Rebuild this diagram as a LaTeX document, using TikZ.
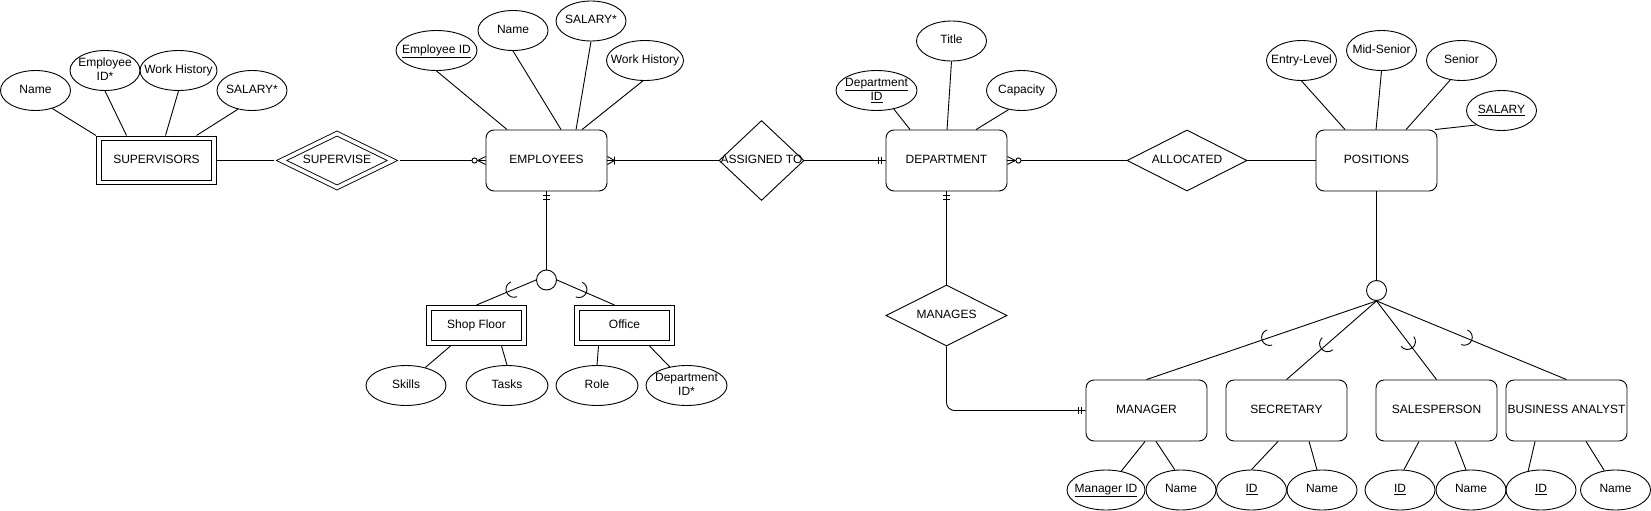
\documentclass[tikz,border=0pt]{standalone}
\usepackage{fontspec}
\setmainfont{Liberation Sans}
\usetikzlibrary{shapes.geometric, calc, decorations.markings}
\newcommand{\ertxt}[1]{\makebox[0pt]{\begin{tabular}{@{}c@{}}#1\end{tabular}}}

\begin{document}
\begin{tikzpicture}[x=1pt, y=-1pt, line width=0.9pt,
 font=\fontsize{12}{14}\selectfont,
 entity/.style={draw, rounded corners=8pt, minimum width=121pt, minimum height=61pt, inner sep=0pt},
 weak/.style={draw, double, double distance=3.5pt, outer sep=3pt, minimum width=115pt, minimum height=44pt, inner sep=0pt},
 attr/.style={ellipse, draw, minimum width=70pt, minimum height=40pt, inner sep=0pt},
 rel/.style={diamond, draw, minimum width=120pt, minimum height=61pt, inner sep=0pt},
 isa/.style={circle, draw, minimum size=20pt, inner sep=0pt},
 one/.style={postaction={decorate}, decoration={markings,
   mark=at position -7.5pt with {\draw (0,-3.5) -- (0,3.5);},
   mark=at position -4pt with {\draw (0,-3.5) -- (0,3.5);}}},
 zeromany/.style={postaction={decorate}, decoration={markings,
   mark=at position -11pt with {\draw[fill=white] (0,0) circle[radius=2.6];},
   mark=at position -8pt with {\draw (0,0) -- (8,4) (0,0) -- (8,-4);}}},
 onemany/.style={postaction={decorate}, decoration={markings,
   mark=at position -7pt with {\draw (0,0) -- (7,4) (0,0) -- (7,-4) (0,-4) -- (0,4);}}},
 subset/.style={postaction={decorate}, decoration={markings,
   mark=at position #1 with {\draw (0,8) arc[start angle=90, end angle=-90, radius=8];}}}
]
 \useasboundingbox (0,0) rectangle (1651,511);

 \node[weak] (sup) at (156.5,160.5) {\ertxt{SUPERVISORS}};
 \node[rel, double, double distance=3.5pt, outer sep=5pt, minimum width=115pt, minimum height=58pt] (supv) at (337,160.5) {\ertxt{SUPERVISE}};
 \node[entity] (emp) at (546.5,160.5) {\ertxt{EMPLOYEES}};
 \node[rel, minimum width=85pt, minimum height=80pt] (asg) at (761.5,160.5) {\ertxt{ASSIGNED TO}};
 \node[entity] (dep) at (946.5,160.5) {\ertxt{DEPARTMENT}};
 \node[rel] (alloc) at (1187,160.5) {\ertxt{ALLOCATED}};
 \node[entity] (pos) at (1376.5,160.5) {\ertxt{POSITIONS}};

 \node[attr] (snm) at (35.5,90.5) {\ertxt{Name}};
 \node[attr] (sid) at (105,70.5) {\ertxt{Employee\\ID*}};
 \node[attr, minimum width=77pt] (swh) at (178.5,70.5) {\ertxt{Work History}};
 \node[attr] (ssal) at (252,90.5) {\ertxt{SALARY*}};

 \node[attr, minimum width=81pt] (eid) at (436.5,50.5) {\ertxt{\underline{Employee ID}}};
 \node[attr] (enm) at (513,30.5) {\ertxt{Name}};
 \node[attr] (esal) at (591,21) {\ertxt{SALARY*}};
 \node[attr, minimum width=77pt] (ewh) at (645,60.5) {\ertxt{Work History}};

 \node[attr, minimum width=81pt] (did) at (876.5,90.5) {\ertxt{\underline{Department}\\\underline{ID}}};
 \node[attr] (dtt) at (951.5,41) {\ertxt{Title}};
 \node[attr] (dcap) at (1021.5,90.5) {\ertxt{Capacity}};

 \node[attr] (pe) at (1301.5,60.5) {\ertxt{Entry-Level}};
 \node[attr] (pm) at (1381.5,50.5) {\ertxt{Mid-Senior}};
 \node[attr] (ps) at (1461.5,60.5) {\ertxt{Senior}};
 \node[attr] (psal) at (1501.5,110.5) {\ertxt{\underline{SALARY}}};

 \node[isa] (c1) at (546.5,280) {};
 \node[weak, minimum width=95pt, minimum height=35pt] (shop) at (476.5,325.5) {\ertxt{Shop Floor}};
 \node[weak, minimum width=95pt, minimum height=35pt] (off) at (624.5,325.5) {\ertxt{Office}};
 \node[attr, minimum width=80pt] (skl) at (406,385.5) {\ertxt{Skills}};
 \node[attr, minimum width=82pt] (tsk) at (507,385.5) {\ertxt{Tasks}};
 \node[attr, minimum width=82pt] (rol) at (597,385.5) {\ertxt{Role}};
 \node[attr, minimum width=81pt] (odid) at (686.5,385.5) {\ertxt{Department\\ID*}};

 \node[rel, minimum width=121pt] (mng) at (946.5,315.5) {\ertxt{MANAGES}};
 \node[isa] (c2) at (1376.5,290.5) {};
 \node[entity] (mgr) at (1146.5,410.5) {\ertxt{MANAGER}};
 \node[entity] (sec) at (1286.5,410.5) {\ertxt{SECRETARY}};
 \node[entity] (sal) at (1436.5,410.5) {\ertxt{SALESPERSON}};
 \node[entity] (ba) at (1566.5,410.5) {\ertxt{BUSINESS ANALYST}};

 \node[attr, minimum width=78pt] (mid) at (1106,490) {\ertxt{\underline{Manager ID}}};
 \node[attr] (mnm) at (1181,490) {\ertxt{Name}};
 \node[attr] (scid) at (1251.5,490) {\ertxt{\underline{ID}}};
 \node[attr] (scnm) at (1322,490) {\ertxt{Name}};
 \node[attr] (slid) at (1400,490) {\ertxt{\underline{ID}}};
 \node[attr] (slnm) at (1471,490) {\ertxt{Name}};
 \node[attr] (baid) at (1541,490) {\ertxt{\underline{ID}}};
 \node[attr] (banm) at (1615.5,490) {\ertxt{Name}};

 \draw (snm.-47) -- (sup.north west);
 \draw (sid.south) -- ($(sup.north west)+(30.5,0)$);
 \draw (swh.south) -- ($(sup.north west)+(69.5,0)$);
 \draw (ssal.-127) -- ($(sup.north west)+(100.5,0)$);

 \draw (eid.south) -- ($(emp.north west)+(21.5,0)$);
 \draw (enm.south) -- ($(emp.north west)+(75.5,0)$);
 \draw (esal.south) -- ($(emp.north west)+(90.5,0)$);
 \draw (ewh.-96) -- ($(emp.north west)+(96.5,0)$);

 \draw (did.-47) -- ($(dep.north west)+(24.5,0)$);
 \draw (dtt.south) -- ($(dep.north west)+(61.5,0)$);
 \draw (dcap.-124) -- ($(dep.north west)+(90.5,0)$);

 \draw (pe.south) -- ($(pos.north west)+(29.5,0)$);
 \draw (pm.south) -- ($(pos.north west)+(60.5,0)$);
 \draw (ps.-120) -- ($(pos.north west)+(90.5,0)$);
 \draw (psal.-150) -- ($(pos.north west)+(119.5,0)$);

 \draw (skl.43) -- ($(shop.south west)+(24.5,0)$);
 \draw (tsk.north) -- ($(shop.south west)+(75.5,0)$);
 \draw (rol.north) -- ($(off.south west)+(24.5,0)$);
 \draw (odid.132) -- ($(off.south west)+(75.5,0)$);

 \draw (mid.51) -- ($(mgr.south west)+(59.5,0)$);
 \draw (mnm.107) -- ($(mgr.south west)+(70.5,0)$);
 \draw (scid.north) -- ($(sec.south west)+(52.5,0)$);
 \draw (scnm.104) -- ($(sec.south west)+(83.5,0)$);
 \draw (slid.79) -- ($(sal.south west)+(43.5,0)$);
 \draw (slnm.104) -- ($(sal.south west)+(79.5,0)$);
 \draw (baid.124) -- ($(ba.south west)+(29.5,0)$);
 \draw (banm.120) -- ($(ba.south west)+(80.5,0)$);

 \draw (sup) -- (supv);
 \draw[zeromany] (supv) -- (emp);
 \draw[onemany] (asg) -- (emp);
 \draw[one] (asg) -- (dep);
 \draw[zeromany] (alloc) -- (dep);
 \draw (alloc) -- (pos);

 \draw[one] (c1) -- (emp);
 \draw[subset=24pt] (c1.west) -- (shop.north);
 \draw[subset=24pt] (c1.east) -- ($(off.north)+(-10,0)$);

 \draw[one] (mng) -- (dep);
 \draw[one, rounded corners=8pt] (mng.south) |- (mgr);

 \draw (c2) -- (pos);
 \draw[subset=113pt] (c2.south) -- (mgr.north);
 \draw[subset=65pt] (c2.south) -- (sec.north);
 \draw[subset=51pt] (c2.south) -- (sal.north);
 \draw[subset=95pt] (c2.south) -- (ba.north);
\end{tikzpicture}
\end{document}
